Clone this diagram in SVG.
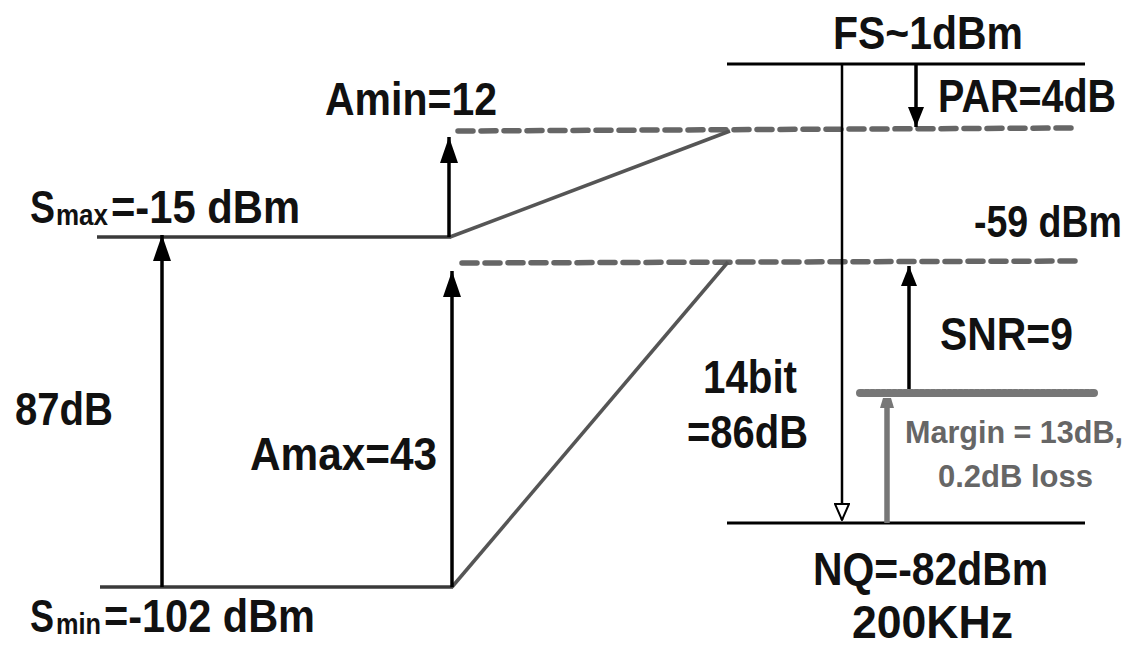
<svg xmlns="http://www.w3.org/2000/svg" width="1132" height="650" viewBox="0 0 1132 650">
<style>
text{font-family:"Liberation Sans",Arial,sans-serif;font-weight:bold;fill:#111;}
.big{font-size:46px;}
.sub{font-size:30px;}
.gray{font-size:32px;fill:#666;}
.lvl{stroke:#3a3a3a;stroke-width:3.5;fill:none;}
.blk{stroke:#000;stroke-width:3;fill:none;}
.slant{stroke:#555;stroke-width:3.5;fill:none;}
.dash{stroke:#666;stroke-width:5.5;stroke-dasharray:15 8;stroke-linecap:round;fill:none;}
.arr{stroke:#000;stroke-width:3.5;fill:none;}
</style>
<defs>
<marker id="ah" viewBox="0 0 26 18" refX="26" refY="9" markerWidth="26" markerHeight="18" markerUnits="userSpaceOnUse" orient="auto">
<path d="M0,0 L26,9 L0,18 z" fill="#000"/>
</marker>
<marker id="ahs" viewBox="0 0 20 16" refX="20" refY="8" markerWidth="20" markerHeight="16" markerUnits="userSpaceOnUse" orient="auto">
<path d="M0,0 L20,8 L0,16 z" fill="#000"/>
</marker>
<marker id="open" viewBox="0 0 18 16" refX="17" refY="8" markerWidth="18" markerHeight="16" markerUnits="userSpaceOnUse" orient="auto">
<path d="M1,1 L17,8 L1,15 z" fill="#fff" stroke="#000" stroke-width="2"/>
</marker>
<marker id="gah" viewBox="0 0 10 16" refX="10" refY="8" markerWidth="10" markerHeight="16" markerUnits="userSpaceOnUse" orient="auto">
<path d="M0,1 L10,4 L10,12 L0,15 z" fill="#777"/>
</marker>
</defs>

<g id="levels">
<line class="lvl" x1="97" y1="237" x2="451" y2="237"/>
<line class="lvl" x1="100" y1="587" x2="453" y2="587"/>
<line class="blk" x1="727" y1="64" x2="1085" y2="64"/>
<line class="blk" x1="727" y1="523" x2="1085" y2="523"/>
<line class="dash" x1="458" y1="131" x2="1072" y2="128"/>
<line class="dash" x1="462" y1="263" x2="1079" y2="261"/>
<line x1="860" y1="393" x2="1094" y2="393" stroke="#777" stroke-width="8" stroke-dasharray="3 2.5" stroke-linecap="round"/>
</g>

<g id="connectors">
<line class="slant" x1="450" y1="237" x2="730" y2="131"/>
<line class="slant" x1="452" y1="587" x2="728" y2="262"/>
<line class="arr" x1="162" y1="587" x2="162" y2="235" marker-end="url(#ah)"/>
<line class="arr" x1="449" y1="237" x2="449" y2="137" marker-end="url(#ah)"/>
<line class="arr" x1="452" y1="587" x2="452" y2="271" marker-end="url(#ah)"/>
<line x1="842" y1="64" x2="842" y2="520" stroke="#000" stroke-width="2.5" marker-end="url(#open)"/>
<line class="arr" x1="916" y1="64" x2="916" y2="127" marker-end="url(#ahs)"/>
<line class="arr" x1="909" y1="389" x2="909" y2="266" marker-end="url(#ahs)"/>
<line x1="887" y1="523" x2="887" y2="398" stroke="#777" stroke-width="5.5" marker-end="url(#gah)"/>
</g>

<g id="labels">
<text class="big" x="833" y="49" textLength="190" lengthAdjust="spacingAndGlyphs">FS~1dBm</text>
<text x="0" y="0" style="font-size:39.5px" transform="translate(938,112) scale(1,1.15)">PAR=4dB</text>
<text class="big" x="325" y="115" textLength="172" lengthAdjust="spacingAndGlyphs">Amin=12</text>
<text class="big" x="30" y="223" textLength="25" lengthAdjust="spacingAndGlyphs">S</text>
<text class="sub" x="56" y="225" textLength="52" lengthAdjust="spacingAndGlyphs">max</text>
<text class="big" x="111" y="223" textLength="189" lengthAdjust="spacingAndGlyphs">=-15 dBm</text>
<text x="0" y="0" style="font-size:37.5px" transform="translate(974,237) scale(1,1.2)">-59 dBm</text>
<text class="big" x="940" y="350" textLength="133" lengthAdjust="spacingAndGlyphs">SNR=9</text>
<text class="big" x="703" y="393" textLength="94" lengthAdjust="spacingAndGlyphs">14bit</text>
<text class="big" x="687" y="448" textLength="121" lengthAdjust="spacingAndGlyphs">=86dB</text>
<text class="big" x="15" y="425" textLength="98" lengthAdjust="spacingAndGlyphs">87dB</text>
<text class="big" x="250" y="470" textLength="187" lengthAdjust="spacingAndGlyphs">Amax=43</text>
<text class="gray" x="905" y="443" textLength="218" lengthAdjust="spacingAndGlyphs">Margin = 13dB,</text>
<text class="gray" x="938" y="487" textLength="155" lengthAdjust="spacingAndGlyphs">0.2dB loss</text>
<text class="big" x="813" y="585" textLength="235" lengthAdjust="spacingAndGlyphs">NQ=-82dBm</text>
<text class="big" x="852" y="638" textLength="161" lengthAdjust="spacingAndGlyphs">200KHz</text>
<text class="big" x="30" y="632" textLength="24" lengthAdjust="spacingAndGlyphs">S</text>
<text class="sub" x="56" y="634" textLength="45" lengthAdjust="spacingAndGlyphs">min</text>
<text class="big" x="104" y="632" textLength="211" lengthAdjust="spacingAndGlyphs">=-102 dBm</text>
</g>
</svg>
